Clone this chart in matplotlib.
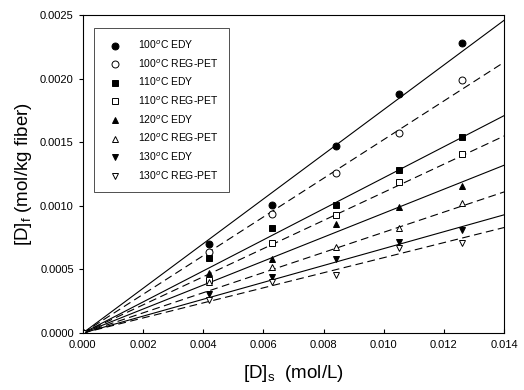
import matplotlib
matplotlib.use("Agg")
import matplotlib.pyplot as plt
import numpy as np

plt.rcParams['font.family'] = ['Liberation Sans', 'DejaVu Sans']
plt.rcParams['mathtext.fontset'] = 'custom'
plt.rcParams['mathtext.rm'] = 'Liberation Sans'

# dye concentration in bath, mol/L
conc = [0.0, 0.0042, 0.0063, 0.0084, 0.0105, 0.0126]

# dye in fiber, mol/kg fiber
edy100 = [0.0, 0.00070, 0.00101, 0.00147, 0.00188, 0.00228]
reg100 = [0.0, 0.00064, 0.00094, 0.00126, 0.00157, 0.00199]
edy110 = [0.0, 0.00059, 0.00083, 0.00101, 0.00128, 0.00154]
reg110 = [0.0, 0.00042, 0.00071, 0.00093, 0.00119, 0.00141]
edy120 = [0.0, 0.00047, 0.00058, 0.00086, 0.00099, 0.00116]
reg120 = [0.0, 0.00040, 0.00052, 0.00068, 0.00083, 0.00102]
edy130 = [0.0, 0.00031, 0.00044, 0.00058, 0.00072, 0.00081]
reg130 = [0.0, 0.00026, 0.00040, 0.00046, 0.00067, 0.00071]

# fitted lines, value at the right end (x = 0.014)
line_x = [0.0, 0.014]
line_end = [0.00246, 0.00213, 0.00171, 0.00155, 0.00132, 0.00111, 0.00093, 0.00083]

labels = ['100$^{o}$C EDY', '100$^{o}$C REG-PET', '110$^{o}$C EDY', '110$^{o}$C REG-PET',
          '120$^{o}$C EDY', '120$^{o}$C REG-PET', '130$^{o}$C EDY', '130$^{o}$C REG-PET']
series = [edy100, reg100, edy110, reg110, edy120, reg120, edy130, reg130]
markers = ['o', 'o', 's', 's', '^', '^', 'v', 'v']

fig = plt.figure(figsize=(5.24, 3.9), dpi=100)
ax = fig.add_axes([0.158, 0.146, 0.804, 0.815])

for i in range(8):
    edy = (i % 2 == 0)
    ax.plot(line_x, [0.0, line_end[i]], color='black', lw=0.8,
            ls='-' if edy else (0, (7, 4)), zorder=1)
    ax.plot(conc, series[i], ls='none', marker=markers[i], ms=5,
            mfc='black' if edy else 'white', mec='black', mew=0.7,
            label=labels[i], zorder=2)

ax.set_xlim(0, 0.014)
ax.set_ylim(0, 0.0025)
ax.set_xticks(np.arange(0, 0.0141, 0.002))
ax.set_yticks(np.arange(0, 0.00251, 0.0005))
ax.xaxis.set_major_formatter(matplotlib.ticker.FormatStrFormatter('%.3f'))
ax.yaxis.set_major_formatter(matplotlib.ticker.FormatStrFormatter('%.4f'))
ax.tick_params(axis='x', direction='in', labelsize=8, length=3, pad=5)
ax.tick_params(axis='y', direction='out', labelsize=8, length=3)
for s in ax.spines.values():
    s.set_linewidth(0.8)

ax.set_xlabel('[D]$_{\\mathrm{s}}$  (mol/L)', fontsize=13.5, labelpad=9)
ax.set_ylabel('[D]$_{\\mathrm{f}}$ (mol/kg fiber)', fontsize=13.5, labelpad=4)

leg = ax.legend(loc='upper left', fontsize=7.5, frameon=True, fancybox=False,
                edgecolor='black', borderpad=1.0, labelspacing=0.6,
                handletextpad=1.2, bbox_to_anchor=(0.015, 0.975))
leg.get_frame().set_linewidth(0.6)

fig.savefig('out.png', dpi=100)
